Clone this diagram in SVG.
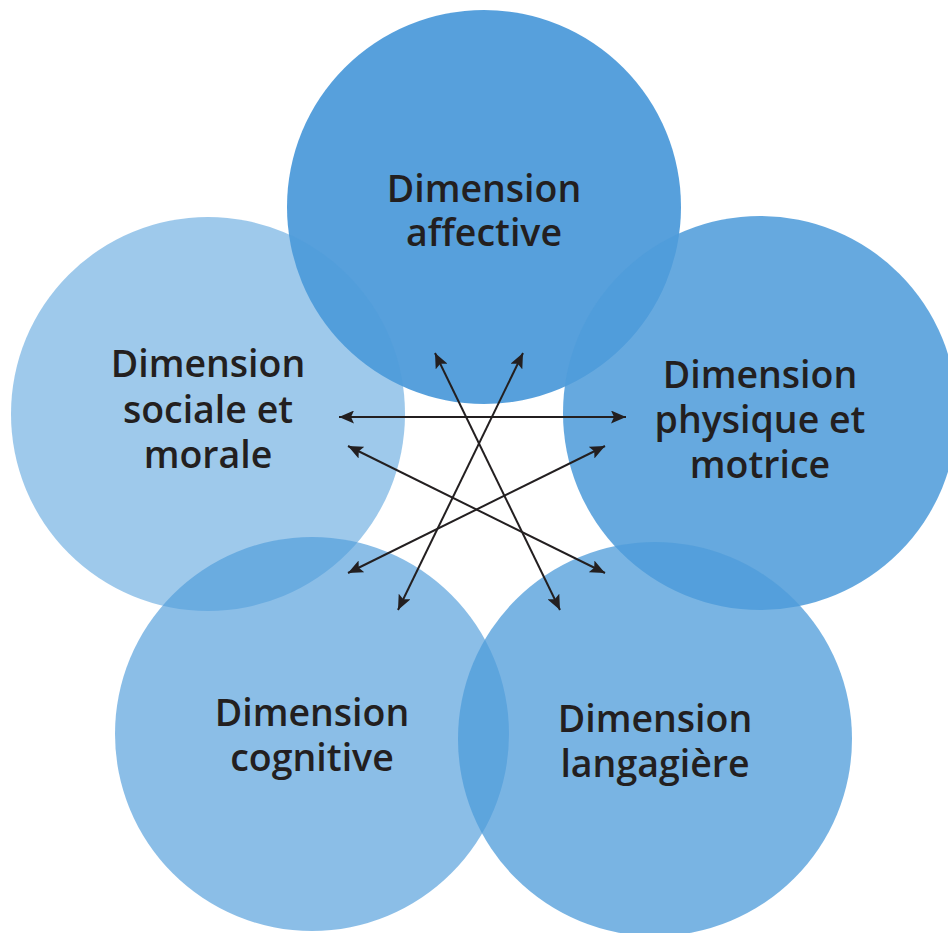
<svg xmlns="http://www.w3.org/2000/svg" width="948" height="933" viewBox="0 0 948 933">
<style>
.c{fill:#4f9cda}
.t{font-family:"Open Sans","Liberation Sans",sans-serif;font-weight:600;font-size:37.5px;fill:#231f20;text-anchor:middle}
.a{stroke:#231f20;stroke-width:2;fill:none;marker-start:url(#ah);marker-end:url(#ah)}
</style>
<defs>
<marker id="ah" markerUnits="userSpaceOnUse" markerWidth="16" markerHeight="13" refX="15" refY="6.5" orient="auto-start-reverse">
<path d="M0,0 L15,6.5 L0,13 L3,6.5 Z" fill="#231f20"/>
</marker>
</defs>
<rect width="948" height="933" fill="#ffffff"/>
<g id="node-affective">
<circle class="c" cx="484" cy="207" r="197" fill-opacity="0.955"/>
</g>
<g id="node-sociale">
<circle class="c" cx="208" cy="414" r="197" fill-opacity="0.55"/>
</g>
<g id="node-physique">
<circle class="c" cx="760" cy="413" r="197" fill-opacity="0.87"/>
</g>
<g id="node-cognitive">
<circle class="c" cx="312" cy="734" r="197" fill-opacity="0.66"/>
</g>
<g id="node-langagiere">
<circle class="c" cx="655" cy="739" r="197" fill-opacity="0.76"/>
</g>
<g id="labels">
<text class="t"><tspan x="484" y="202">Dimension</tspan><tspan x="484" y="246">affective</tspan></text>
<text class="t"><tspan x="208" y="377">Dimension</tspan><tspan x="208" y="423">sociale et</tspan><tspan x="208" y="468">morale</tspan></text>
<text class="t"><tspan x="760" y="388">Dimension</tspan><tspan x="760" y="433">physique et</tspan><tspan x="760" y="478">motrice</tspan></text>
<text class="t"><tspan x="312" y="726">Dimension</tspan><tspan x="312" y="771">cognitive</tspan></text>
<text class="t"><tspan x="655" y="732">Dimension</tspan><tspan x="655" y="777">langagière</tspan></text>
</g>
<g id="connectors">
<line class="a" x1="339" y1="417" x2="626" y2="417"/>
<line class="a" x1="348" y1="446" x2="605" y2="573"/>
<line class="a" x1="605" y1="446" x2="348" y2="573"/>
<line class="a" x1="435" y1="353" x2="560" y2="610"/>
<line class="a" x1="523" y1="353" x2="398" y2="610"/>
</g>
</svg>
